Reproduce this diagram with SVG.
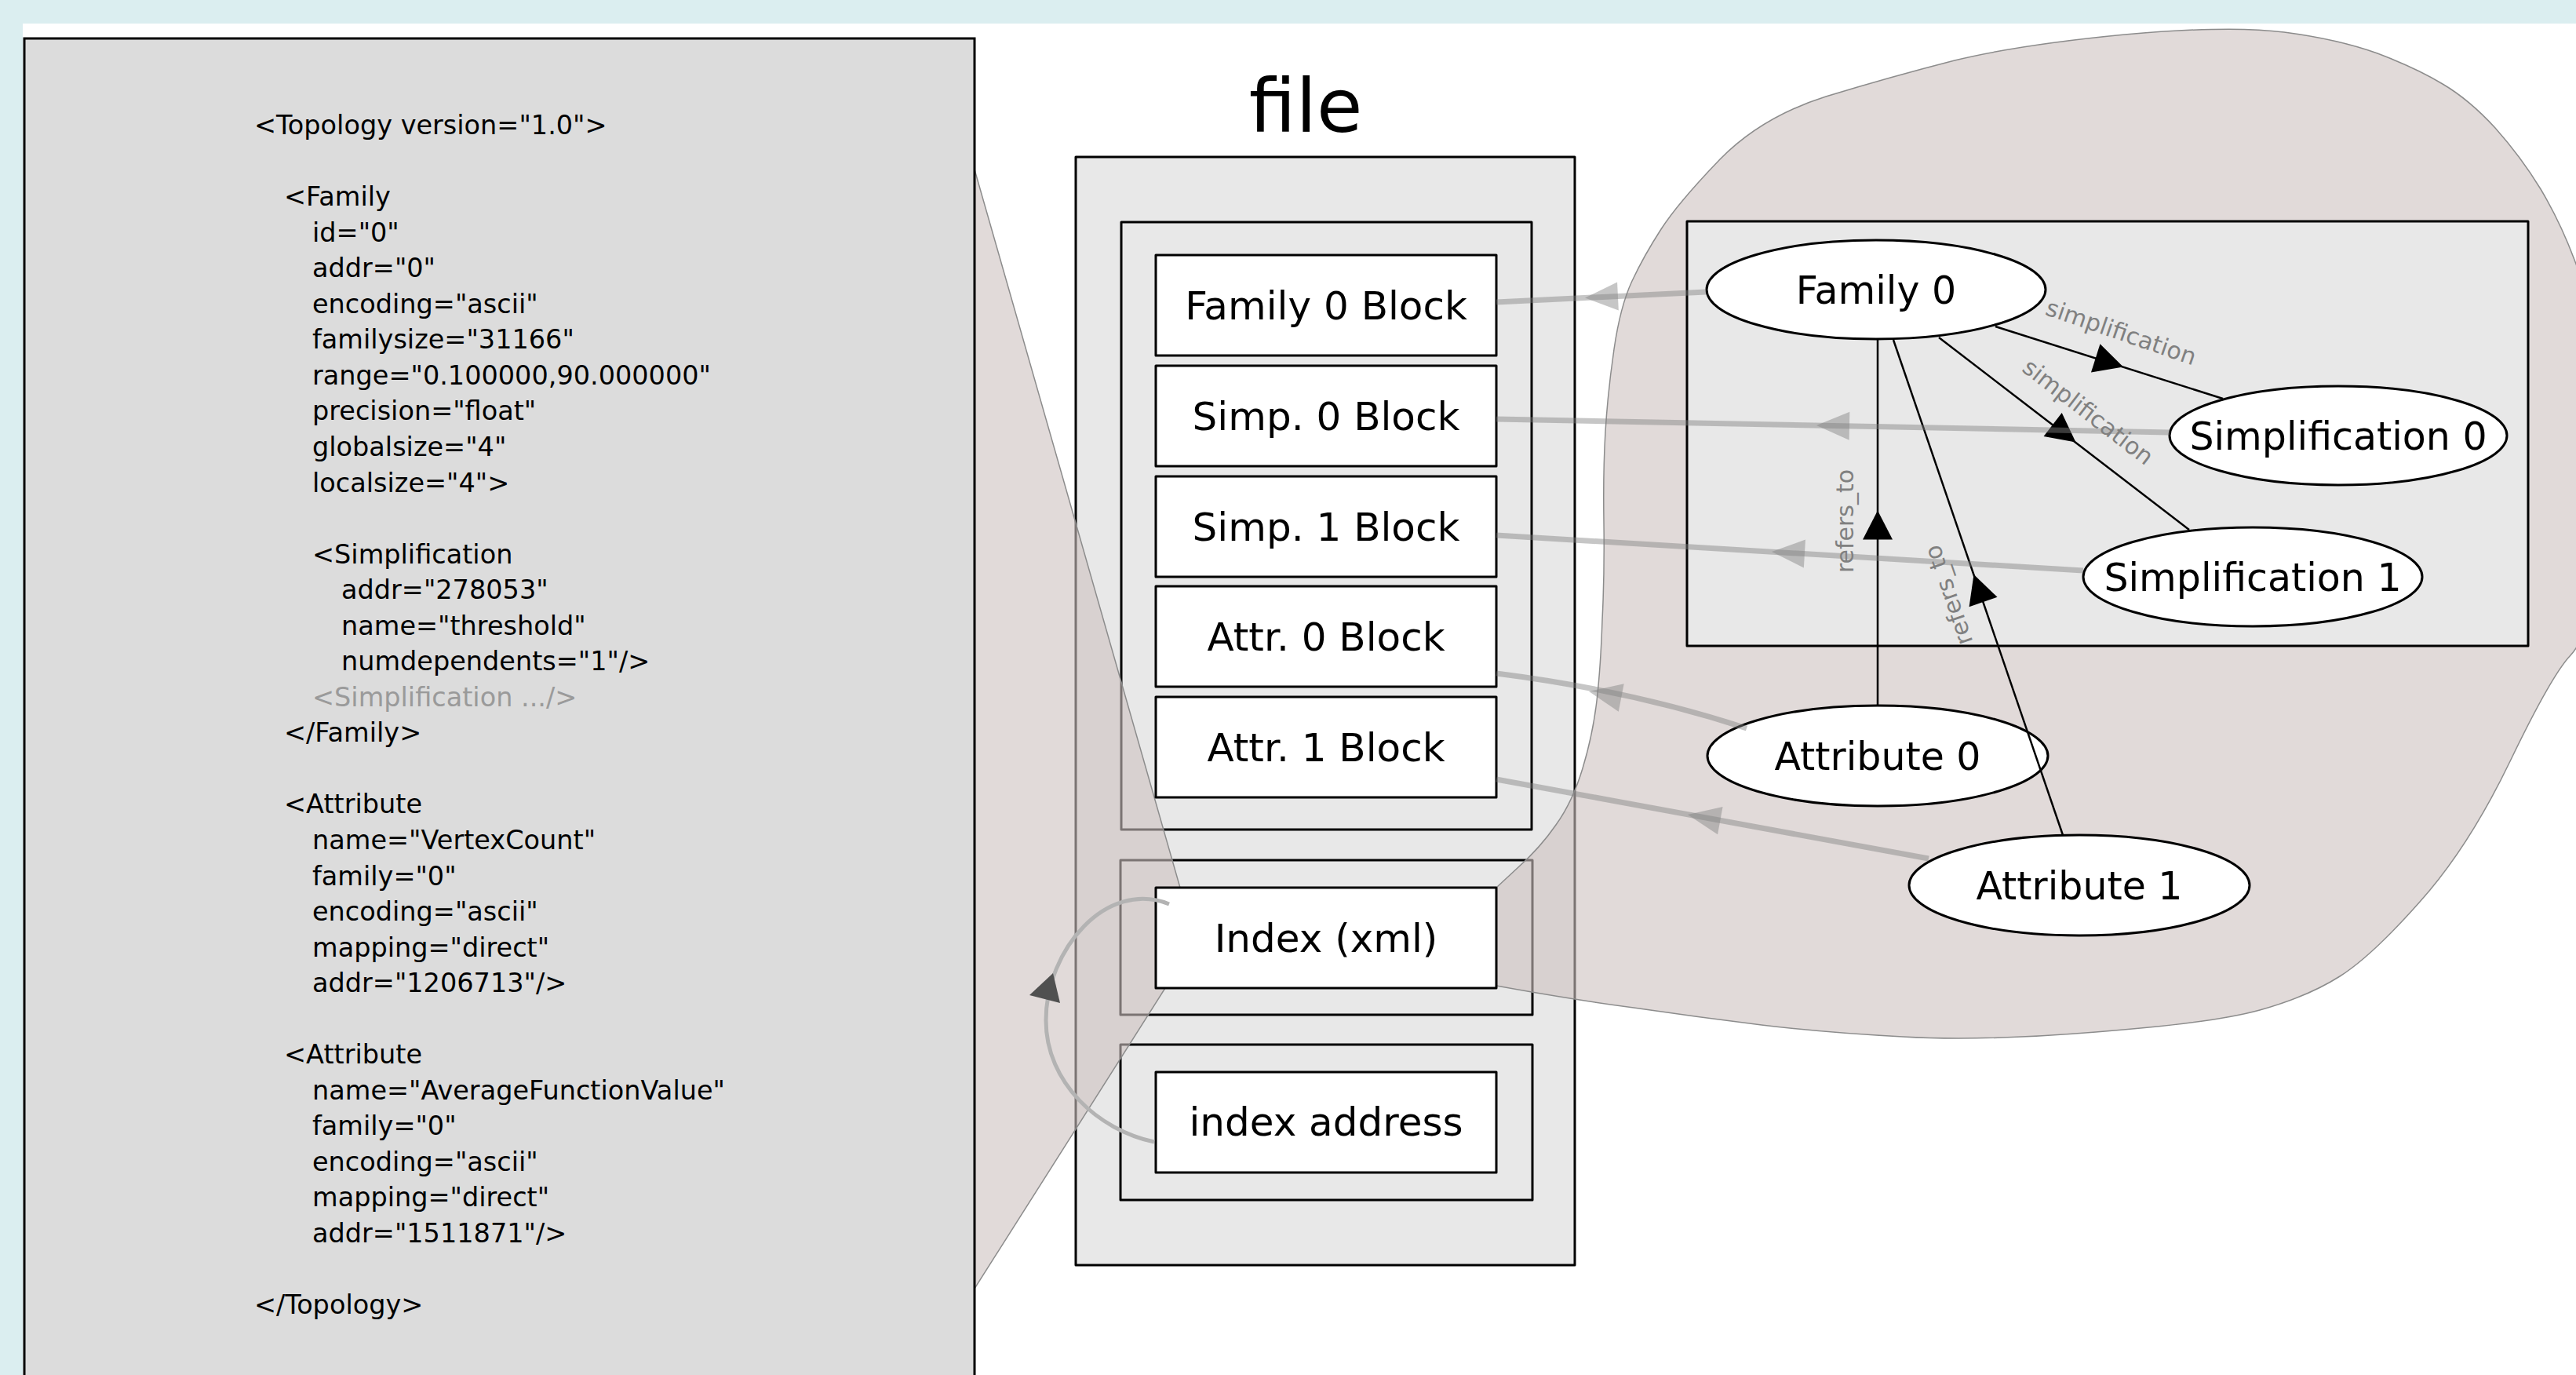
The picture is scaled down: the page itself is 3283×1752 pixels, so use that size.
<svg xmlns="http://www.w3.org/2000/svg" xmlns:xlink="http://www.w3.org/1999/xlink" width="3283" height="1752" viewBox="0 0 3283 1752">
<style>
text{font-family:"DejaVu Sans","Liberation Sans",sans-serif}
.xml{font-size:33.5px;fill:#000}
.xg{fill:#9a9a9a}
.grp{fill:#e8e8e8;stroke:#000;stroke-width:3;stroke-linejoin:round}
.blk{fill:#fff;stroke:#000;stroke-width:3;stroke-linejoin:round}
.bl{font-size:50px;text-anchor:middle;fill:#000}
.el{fill:#fff;stroke:#000;stroke-width:3}
.en{font-size:49px;text-anchor:middle;fill:#000}
.hull{fill:#cdc1bf;fill-opacity:0.6;stroke:#8c8c8c;stroke-width:1.5}
.ge{fill:none;stroke:#808080;stroke-opacity:0.45;stroke-width:7}
.ga{fill:#808080;fill-opacity:0.45}
.be{fill:none;stroke:#000;stroke-width:2.5}
.lab{font-size:30px;fill:#808080;text-anchor:middle}
</style>
<defs>
<path id="gah" d="M0,0 L42,-18 L42,18 Z"/>
<path id="bah" d="M0,0 L-37,-19 L-37,19 Z"/>
</defs>
<rect width="3283" height="1752" fill="#dbeef0"/>
<rect x="29" y="30" width="3254" height="1722" fill="#fff"/>

<g id="file">
<text x="1664" y="168" style="font-size:95px;text-anchor:middle">file</text>
<rect class="grp" x="1371" y="200" width="636" height="1412"/>
<rect class="grp" x="1429" y="283" width="523" height="774"/>
<rect class="grp" x="1428" y="1096" width="525" height="197"/>
<rect class="grp" x="1428" y="1331" width="525" height="198"/>
</g>

<g id="hulls">
<path class="hull" d="M1242,216 L1504,1131 L1485,1259 L1242,1642 Z"/>
<path class="hull" d="M1907,1131 L1935,1105 Q1963,1080 1983,1051 Q2004,1022 2017,979 Q2030,936 2035,893 Q2040,850 2042,790 Q2045,730 2044,665 Q2043,600 2046,550 Q2049,500 2057,445 Q2065,390 2080,358 Q2095,326 2117,292 Q2139,258 2192,203 Q2245,149 2327,123 Q2409,98 2491,77 Q2573,57 2708,44 Q2843,32 2911,41 Q2980,50 3030,68 Q3080,87 3113,107 Q3147,127 3180,163 Q3213,200 3238,241 Q3263,283 3281,331 Q3300,380 3322,490 Q3345,600 3322,705 Q3300,810 3276,835 Q3252,860 3199,970 Q3146,1080 3084,1149 Q3023,1218 2982,1244 Q2941,1270 2880,1287 Q2818,1304 2671,1315 Q2524,1327 2425,1321 Q2327,1316 2245,1306 Q2164,1296 2082,1284 Q2000,1273 1907,1256 Z"/>
</g>

<g id="xml-panel">
<rect x="31" y="49" width="1211" height="1720" fill="#dcdcdc" stroke="#000" stroke-width="3"/>
<g class="xml">
<text x="324" y="171">&lt;Topology version="1.0"&gt;</text>
<text x="362" y="262">&lt;Family</text>
<text x="398" y="308">id="0"</text>
<text x="398" y="353">addr="0"</text>
<text x="398" y="399">encoding="ascii"</text>
<text x="398" y="444">familysize="31166"</text>
<text x="398" y="490">range="0.100000,90.000000"</text>
<text x="398" y="535">precision="float"</text>
<text x="398" y="581">globalsize="4"</text>
<text x="398" y="627">localsize="4"&gt;</text>
<text x="398" y="718">&lt;Simplification</text>
<text x="435" y="763">addr="278053"</text>
<text x="435" y="809">name="threshold"</text>
<text x="435" y="854">numdependents="1"/&gt;</text>
<text x="398" y="900" class="xg">&lt;Simplification .../&gt;</text>
<text x="362" y="945">&lt;/Family&gt;</text>
<text x="362" y="1036">&lt;Attribute</text>
<text x="398" y="1082">name="VertexCount"</text>
<text x="398" y="1128">family="0"</text>
<text x="398" y="1173">encoding="ascii"</text>
<text x="398" y="1219">mapping="direct"</text>
<text x="398" y="1264">addr="1206713"/&gt;</text>
<text x="362" y="1355">&lt;Attribute</text>
<text x="398" y="1401">name="AverageFunctionValue"</text>
<text x="398" y="1446">family="0"</text>
<text x="398" y="1492">encoding="ascii"</text>
<text x="398" y="1537">mapping="direct"</text>
<text x="398" y="1583">addr="1511871"/&gt;</text>
<text x="324" y="1674">&lt;/Topology&gt;</text>
</g>
</g>

<g id="family0-block"><rect class="blk" x="1473" y="325" width="434" height="128"/><text class="bl" x="1690" y="407">Family 0 Block</text></g>
<g id="simp0-block"><rect class="blk" x="1473" y="466" width="434" height="128"/><text class="bl" x="1690" y="548">Simp. 0 Block</text></g>
<g id="simp1-block"><rect class="blk" x="1473" y="607" width="434" height="128"/><text class="bl" x="1690" y="689">Simp. 1 Block</text></g>
<g id="attr0-block"><rect class="blk" x="1473" y="747" width="434" height="128"/><text class="bl" x="1690" y="829">Attr. 0 Block</text></g>
<g id="attr1-block"><rect class="blk" x="1473" y="888" width="434" height="128"/><text class="bl" x="1690" y="970">Attr. 1 Block</text></g>
<g id="index-xml"><rect class="blk" x="1473" y="1131" width="434" height="128"/><text class="bl" x="1690" y="1213">Index (xml)</text></g>
<g id="index-address"><rect class="blk" x="1473" y="1366" width="434" height="128"/><text class="bl" x="1690" y="1447">index address</text></g>

<g id="graph-cluster"><rect class="grp" x="2150" y="282" width="1072" height="541"/></g>
<g id="family0"><ellipse class="el" cx="2391" cy="369" rx="216" ry="63"/><text class="en" x="2391" y="387">Family 0</text></g>
<g id="simplification0"><ellipse class="el" cx="2980" cy="555" rx="215" ry="63"/><text class="en" x="2980" y="573">Simplification 0</text></g>
<g id="simplification1"><ellipse class="el" cx="2871" cy="735" rx="216" ry="63"/><text class="en" x="2871" y="753">Simplification 1</text></g>
<g id="attribute0"><ellipse class="el" cx="2393" cy="963" rx="217" ry="64"/><text class="en" x="2393" y="981">Attribute 0</text></g>
<g id="attribute1"><ellipse class="el" cx="2650" cy="1128" rx="217" ry="64"/><text class="en" x="2650" y="1146">Attribute 1</text></g>

<g id="connectors">
<line class="be" x1="2543" y1="416" x2="2833" y2="508"/>
<use href="#bah" transform="translate(2706,467.5) rotate(17.6)"/>
<text class="lab" transform="translate(2700,433) rotate(19)">simplification</text>
<line class="be" x1="2471" y1="430" x2="2790" y2="675"/>
<use href="#bah" transform="translate(2645.5,563.5) rotate(37.5)"/>
<text class="lab" transform="translate(2655,533) rotate(37.5)">simplification</text>
<line class="be" x1="2393" y1="899" x2="2393" y2="432"/>
<use href="#bah" transform="translate(2393,650.5) rotate(-90)"/>
<text class="lab" transform="translate(2362,664) rotate(-90)">refers_to</text>
<line class="be" x1="2629" y1="1064" x2="2413" y2="433"/>
<use href="#bah" transform="translate(2515.5,732) rotate(-109)"/>
<text class="lab" transform="translate(2493,755) rotate(-109)">refers_to</text>

<path class="ge" d="M1907,385 L2174,372"/>
<use class="ga" href="#gah" transform="translate(2020,379.5) rotate(-2.8)"/>
<path class="ge" d="M1907,534 L2765,551"/>
<use class="ga" href="#gah" transform="translate(2315,542) rotate(1.1)"/>
<path class="ge" d="M1907,682 L2655,727"/>
<use class="ga" href="#gah" transform="translate(2258,703) rotate(3.4)"/>
<path class="ge" d="M1907,858 Q2080,880 2226,928"/>
<use class="ga" href="#gah" transform="translate(2025,881) rotate(11)"/>
<path class="ge" d="M1907,993 L2458,1094"/>
<use class="ga" href="#gah" transform="translate(2151,1038) rotate(10.4)"/>

<path d="M1471,1455 C1400,1440 1333,1380 1333,1300 C1333,1210 1410,1120 1490,1152" fill="none" stroke="#b3b3b3" stroke-width="5"/>
<polygon points="1342,1240 1312,1268 1351,1278" fill="#505050"/>
</g>
</svg>
